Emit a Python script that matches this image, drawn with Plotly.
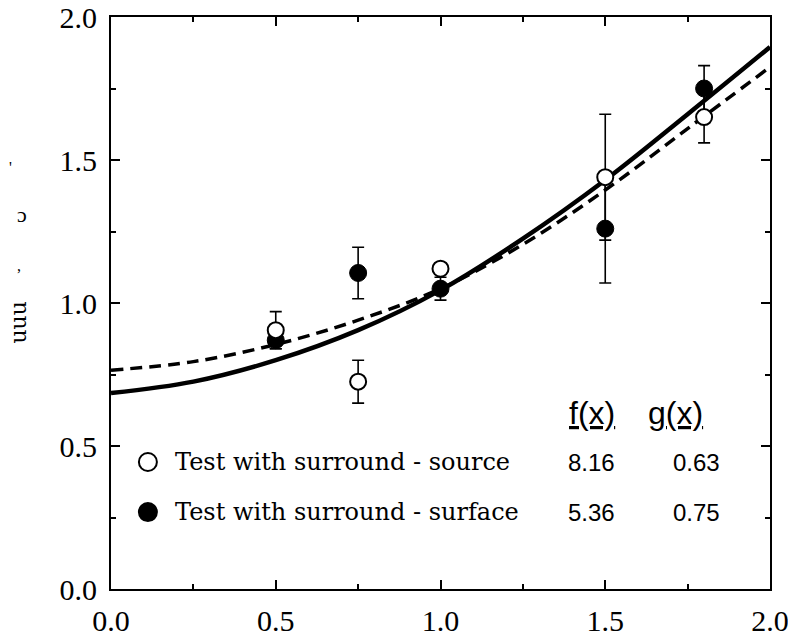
import plotly.graph_objects as go

# ---- data ----
pts_x = [0.5, 0.75, 1.0, 1.5, 1.8]
source_y = [0.905, 0.725, 1.12, 1.44, 1.65]
source_err = [0.065, 0.075, 0.0, 0.22, 0.09]
surface_y = [0.87, 1.105, 1.05, 1.26, 1.75]
surface_err = [0.03, 0.09, 0.04, 0.19, 0.08]

curve_x = [0.0, 0.25, 0.5, 0.75, 1.0, 1.25, 1.5, 1.75, 2.0]
solid_y = [0.685, 0.725, 0.80, 0.905, 1.045, 1.225, 1.43, 1.66, 1.895]
dashed_y = [0.765, 0.795, 0.855, 0.94, 1.05, 1.205, 1.395, 1.61, 1.825]

legend_labels = ["Test with surround - source", "Test with surround - surface"]
f_vals = ["8.16", "5.36"]
g_vals = ["0.63", "0.75"]
tick_vals = [0.0, 0.5, 1.0, 1.5, 2.0]
tick_text = ["0.0", "0.5", "1.0", "1.5", "2.0"]

SERIF = "Liberation Serif, Times New Roman, serif"
LEG_SERIF = "DejaVu Serif, serif"
SANS = "Liberation Sans Narrow, Liberation Sans, Arial, sans-serif"

fig = go.Figure()

fig.add_trace(go.Scatter(x=curve_x, y=dashed_y, mode="lines",
                         line=dict(color="black", width=3.5, dash="12px,7px", shape="spline"),
                         showlegend=False, hoverinfo="skip"))
fig.add_trace(go.Scatter(x=curve_x, y=solid_y, mode="lines",
                         line=dict(color="black", width=4.5, shape="spline"),
                         showlegend=False, hoverinfo="skip"))

fig.add_trace(go.Scatter(x=pts_x, y=surface_y, mode="markers",
                         marker=dict(symbol="circle", size=17, color="black",
                                     line=dict(color="black", width=1)),
                         error_y=dict(type="data", array=surface_err, color="black",
                                      thickness=1.6, width=6),
                         name=legend_labels[1], showlegend=False))
fig.add_trace(go.Scatter(x=pts_x, y=source_y, mode="markers",
                         marker=dict(symbol="circle", size=16, color="white",
                                     line=dict(color="black", width=2)),
                         error_y=dict(type="data", array=source_err, color="black",
                                      thickness=1.6, width=6),
                         name=legend_labels[0], showlegend=False))

# in-plot legend table
leg_y = [0.444, 0.269]
leg_fill = ["white", "black"]
for i in range(2):
    fig.add_shape(type="circle", xref="x", yref="y", xsizemode="pixel", ysizemode="pixel",
                  xanchor=0.112, yanchor=leg_y[i], x0=-9, x1=9, y0=-9, y1=9,
                  line=dict(color="black", width=2), fillcolor=leg_fill[i])
    fig.add_annotation(x=0.188, y=leg_y[i], xref="x", yref="y", text=legend_labels[i],
                       showarrow=False, xanchor="left", yanchor="middle",
                       font=dict(family=LEG_SERIF, size=24, color="black"))
    fig.add_annotation(x=1.457, y=leg_y[i], xref="x", yref="y", text=f_vals[i],
                       showarrow=False, xanchor="center", yanchor="middle",
                       font=dict(family=SANS, size=24, color="black"))
    fig.add_annotation(x=1.778, y=leg_y[i], xref="x", yref="y", text=g_vals[i],
                       showarrow=False, xanchor="center", yanchor="middle",
                       font=dict(family=SANS, size=24, color="black"))

fig.add_annotation(x=1.46, y=0.615, xref="x", yref="y", text="<u>f(x)</u>",
                   showarrow=False, xanchor="center", yanchor="middle",
                   font=dict(family=SANS, size=32, color="black"))
fig.add_annotation(x=1.712, y=0.615, xref="x", yref="y", text="<u>g(x)</u>",
                   showarrow=False, xanchor="center", yanchor="middle",
                   font=dict(family=SANS, size=32, color="black"))

# cropped remnants of the y-axis title (left edge of the scan)
fig.add_annotation(x=-0.162, y=0.467, xref="paper", yref="paper", text="uuu",
                   textangle=-90, showarrow=False,
                   font=dict(family=LEG_SERIF, size=22, color="black"))
fig.add_annotation(x=-0.146, y=0.654, xref="paper", yref="paper", text="ɔ",
                   showarrow=False, font=dict(family=SERIF, size=22, color="black"))
fig.add_annotation(x=-0.158, y=0.755, xref="paper", yref="paper", text="'",
                   showarrow=False, font=dict(family=SERIF, size=16, color="black"))
fig.add_annotation(x=-0.146, y=0.565, xref="paper", yref="paper", text=",",
                   showarrow=False, font=dict(family=SERIF, size=16, color="black"))

axis_common = dict(
    range=[0, 2.0], tickvals=tick_vals, ticktext=tick_text,
    showgrid=False, zeroline=False, automargin=False,
    showline=True, linecolor="black", linewidth=2, mirror="ticks",
    ticks="inside", ticklen=9, tickwidth=1.5, tickcolor="black",
    minor=dict(dtick=0.25, ticks="inside", ticklen=5, tickwidth=1.5, tickcolor="black", showgrid=False),
    tickfont=dict(family=SERIF, size=30, color="black"),
    ticklabeloverflow="allow",
)

fig.update_xaxes(**axis_common, ticklabelstandoff=4)
fig.update_yaxes(**axis_common, ticklabelstandoff=6)

fig.update_layout(
    width=788, height=644,
    margin=dict(l=111, r=18, t=17, b=55),
    paper_bgcolor="white", plot_bgcolor="white",
    showlegend=False,
)

fig.write_html("out.html", config={"displayModeBar": False},
               post_script="document.body.style.margin='0';")
